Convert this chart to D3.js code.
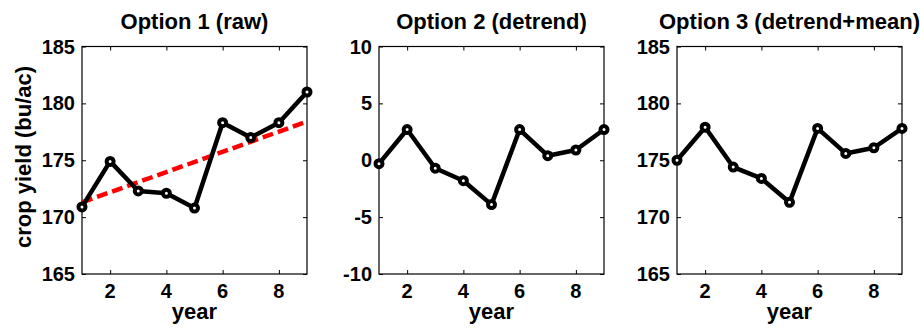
<!DOCTYPE html>
<html>
<head>
<meta charset="utf-8">
<script src="https://cdn.jsdelivr.net/npm/d3@7"></script>
<style>
  body { margin: 0; background: #fff; }
  svg text { font-family: "Liberation Sans", Arial, sans-serif; font-weight: bold; fill: #000; }
</style>
</head>
<body>
<div id="chart"></div>
<script>
//Data
var years = [1, 2, 3, 4, 5, 6, 7, 8, 9];
var rawYield = [170.9, 174.9, 172.3, 172.1, 170.8, 178.3, 177.0, 178.3, 181.0];
var trendYears = [1, 9];
var trendYield = [171.3, 178.4];
var detrended = [-0.3, 2.7, -0.7, -1.8, -3.9, 2.7, 0.4, 0.9, 2.7];
var detrendMean = [175.0, 177.9, 174.4, 173.4, 171.3, 177.8, 175.6, 176.1, 177.8];

var xTicks = [2, 4, 6, 8];
var yieldTicks = [165, 170, 175, 180, 185];
var anomalyTicks = [-10, -5, 0, 5, 10];

var titles = ["Option 1 (raw)", "Option 2 (detrend)", "Option 3 (detrend+mean)"];

var width = 920;
var height = 328;
var plotTop = 46.5;
var plotBottom = 274;
var panelLeft = [82, 379, 677];
var panelWidth = 225;

var svg = d3.select("#chart").append("svg")
    .attr("width", width)
    .attr("height", height);

var panels = [
    { title: titles[0], values: rawYield, domain: [165, 185], ticks: yieldTicks, trend: true },
    { title: titles[1], values: detrended, domain: [-10, 10], ticks: anomalyTicks },
    { title: titles[2], values: detrendMean, domain: [165, 185], ticks: yieldTicks }
];

panels.forEach(function(p, i) {
    var left = panelLeft[i];
    var x = d3.scaleLinear().domain([1, 9]).range([left, left + panelWidth]);
    var y = d3.scaleLinear().domain(p.domain).range([plotBottom, plotTop]);
    var g = svg.append("g");

    //Inward ticks on all four sides, MATLAB style
    var tickLen = 4;
    g.append("g").attr("transform", "translate(0," + plotBottom + ")")
        .call(d3.axisBottom(x).tickValues(xTicks).tickSizeInner(-tickLen).tickSizeOuter(0).tickFormat(""));
    g.append("g").attr("transform", "translate(0," + plotTop + ")")
        .call(d3.axisTop(x).tickValues(xTicks).tickSizeInner(-tickLen).tickSizeOuter(0).tickFormat(""));
    g.append("g").attr("transform", "translate(" + left + ",0)")
        .call(d3.axisLeft(y).tickValues(p.ticks).tickSizeInner(-tickLen).tickSizeOuter(0).tickFormat(""));
    g.append("g").attr("transform", "translate(" + (left + panelWidth) + ",0)")
        .call(d3.axisRight(y).tickValues(p.ticks).tickSizeInner(-tickLen).tickSizeOuter(0).tickFormat(""));
    g.selectAll(".domain").remove();
    g.selectAll(".tick line").attr("stroke", "#000").attr("stroke-width", 1);

    //Box
    g.append("rect")
        .attr("x", left).attr("y", plotTop)
        .attr("width", panelWidth).attr("height", plotBottom - plotTop)
        .attr("fill", "none").attr("stroke", "#000").attr("stroke-width", 1.2);

    //Tick labels
    g.selectAll(".xlab").data(xTicks).enter().append("text")
        .attr("x", function(d) { return x(d); })
        .attr("y", 298)
        .attr("text-anchor", "middle")
        .style("font-size", "20px")
        .text(function(d) { return d; });
    g.selectAll(".ylab").data(p.ticks).enter().append("text")
        .attr("x", left - 7)
        .attr("y", function(d) { return y(d) + 7; })
        .attr("text-anchor", "end")
        .style("font-size", "20px")
        .text(function(d) { return d; });

    //Title and x label
    g.append("text")
        .attr("x", left + panelWidth / 2)
        .attr("y", 29)
        .attr("text-anchor", "middle")
        .style("font-size", "22px")
        .text(p.title);
    g.append("text")
        .attr("x", left + panelWidth / 2)
        .attr("y", 319)
        .attr("text-anchor", "middle")
        .style("font-size", "22px")
        .text("year");

    //Trend line under the data
    if (p.trend) {
        g.append("path")
            .datum(d3.zip(trendYears, trendYield))
            .attr("fill", "none")
            .attr("stroke", "#ff0000")
            .attr("stroke-width", 4.5)
            .attr("stroke-dasharray", "11,5")
            .attr("d", d3.line().x(function(d) { return x(d[0]); }).y(function(d) { return y(d[1]); }));
    }

    var pts = d3.zip(years, p.values);
    g.append("path")
        .datum(pts)
        .attr("fill", "none")
        .attr("stroke", "#000")
        .attr("stroke-width", 4.5)
        .attr("stroke-linejoin", "round")
        .attr("d", d3.line().x(function(d) { return x(d[0]); }).y(function(d) { return y(d[1]); }));

    g.selectAll(".pt").data(pts).enter().append("circle")
        .attr("cx", function(d) { return x(d[0]); })
        .attr("cy", function(d) { return y(d[1]); })
        .attr("r", 3.5)
        .attr("fill", "#fff")
        .attr("stroke", "#000")
        .attr("stroke-width", 4);
});

//Shared y label on the first panel
svg.append("text")
    .attr("transform", "translate(31,157) rotate(-90)")
    .attr("text-anchor", "middle")
    .style("font-size", "22px")
    .text("crop yield (bu/ac)");
</script>
</body>
</html>
